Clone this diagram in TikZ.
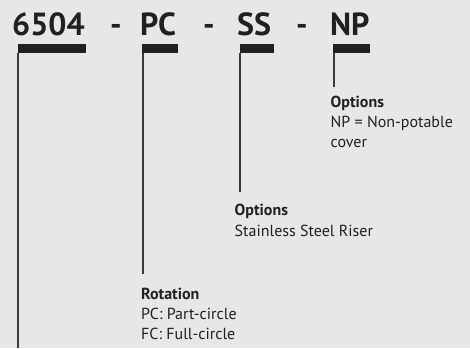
\documentclass[tikz,border=0pt]{standalone}
\usepackage{fontspec}
\setmainfont{PT Sans}
\usetikzlibrary{positioning}
\definecolor{panelgray}{HTML}{E6E7E8}
\definecolor{inkblack}{HTML}{231F20}
\definecolor{leadgray}{HTML}{3A3A3C}

\begin{document}
\begin{tikzpicture}[x=1pt, y=-1pt,
  code/.style = {font=\bfseries\fontsize{32}{36}\selectfont, text=inkblack,
    inner sep=0, anchor=base west},
  bar/.style = {fill=inkblack, inner sep=0, minimum height=8.5pt,
    anchor=north west},
  lead/.style = {draw=leadgray, line width=2pt},
  head/.style = {font=\bfseries\fontsize{16}{20.5}\selectfont, text=inkblack,
    inner sep=0, anchor=base west},
  note/.style = {font=\fontsize{16}{20}\selectfont, text=inkblack,
    inner sep=0, align=left, anchor=base west}
  ]
  \useasboundingbox[fill=panelgray] (0,0) rectangle (470,348);

  % model number
  \node[code] (c6504) at (12,35) {6504};
  \node[code] (dashA) at (110,35) {-};
  \node[code] (cPC) at (140,35) {PC};
  \node[code] (dashB) at (203,35) {-};
  \node[code] (cSS) at (237,35) {SS};
  \node[code] (dashC) at (296,35) {-};
  \node[code] (cNP) at (330,35) {NP};

  % bars under each part
  \node[bar, minimum width=68.7pt] (b6504) at (17.3,44) {};
  \node[bar, minimum width=36.3pt] (bPC) at (141.7,44) {};
  \node[bar, minimum width=34pt] (bSS) at (239.3,44) {};
  \node[bar, minimum width=37.3pt] (bNP) at (332.7,44) {};

  % descriptions (base = last line)
  \node[head] (hNP) at (330.5,107.7) {Options};
  \node[note] (tNP) at (330.5,147.7) {NP = Non-potable\\cover};
  \node[head] (hSS) at (234.5,215) {Options};
  \node[note] (tSS) at (234.5,236.5) {Stainless Steel Riser};
  \node[head] (hPC) at (141,299) {Rotation};
  \node[note] (tPC) at (141,339.5) {PC: Part-circle\\FC: Full-circle};
  \coordinate (c6504end) at (18.3,348);

  % leaders
  \draw[lead] ([xshift=1pt]b6504.south west) -- (c6504end);
  \draw[lead, shorten >=13pt] ([xshift=1pt]bPC.south west) -- ([xshift=1pt]bPC.south west |- hPC.north);
  \draw[lead, shorten >=11pt] ([xshift=1pt]bSS.south west) -- ([xshift=1pt]bSS.south west |- hSS.north);
  \draw[lead, shorten >=9pt] ([xshift=1pt]bNP.south west) -- ([xshift=1pt]bNP.south west |- hNP.north);
\end{tikzpicture}
\end{document}
